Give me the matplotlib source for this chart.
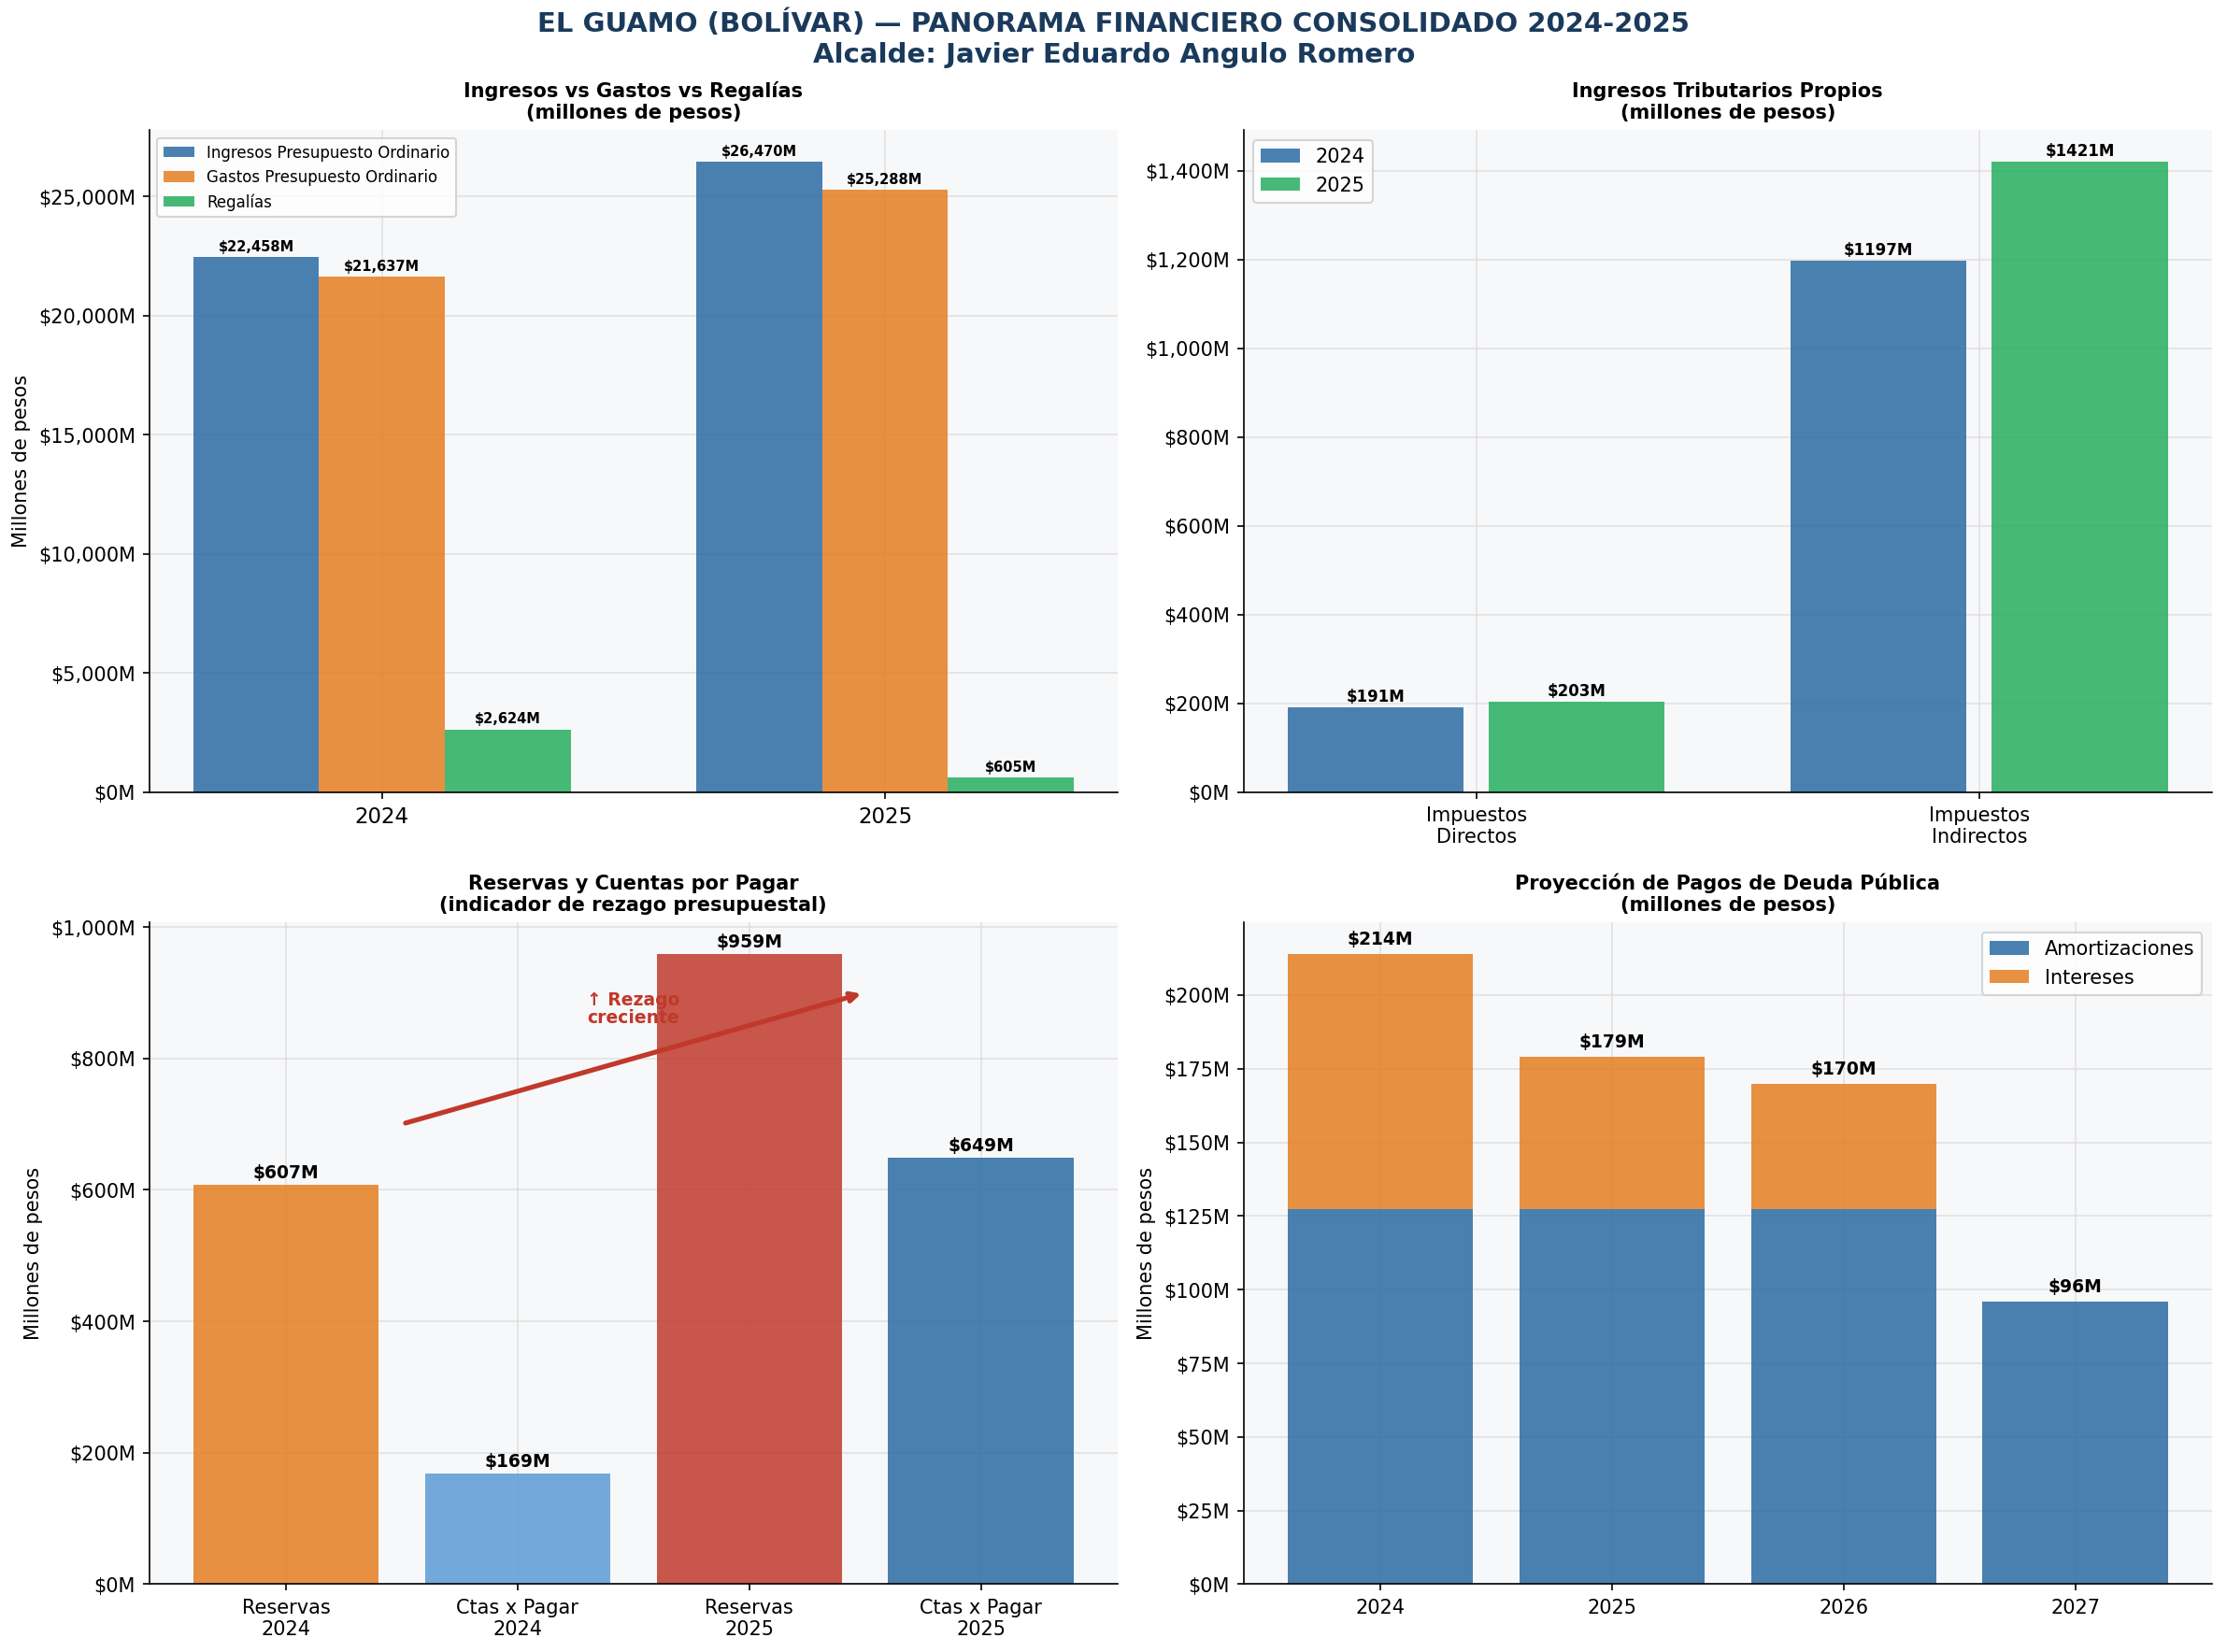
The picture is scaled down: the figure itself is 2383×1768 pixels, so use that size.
import matplotlib
matplotlib.use("Agg")
import matplotlib.pyplot as plt
import numpy as np
from matplotlib.ticker import FuncFormatter

# ---- data ----
years = ["2024", "2025"]
ingresos = [22458, 26470]
gastos = [21637, 25288]
regalias = [2624, 605]

trib_cats = ["Impuestos\nDirectos", "Impuestos\nIndirectos"]
trib_2024 = [191, 1197]
trib_2025 = [203, 1421]

res_cats = ["Reservas\n2024", "Ctas x Pagar\n2024", "Reservas\n2025", "Ctas x Pagar\n2025"]
res_vals = [607, 169, 959, 649]

deuda_years = ["2024", "2025", "2026", "2027"]
amortizaciones = [127.5, 127.5, 127.5, 96]
intereses = [86.5, 51.5, 42.5, 0]

BLUE = "#2b6ba3"
ORANGE = "#e67e22"
GREEN = "#27ae60"
RED = "#c0392b"
LBLUE = "#5b9bd5"
NAVY = "#1a3a5c"
BG = "#f7f8fa"
A = 0.85

fig, axes = plt.subplots(2, 2, figsize=(15.89, 11.79), dpi=150)
fig.suptitle("EL GUAMO (BOLÍVAR) — PANORAMA FINANCIERO CONSOLIDADO 2024-2025\nAlcalde: Javier Eduardo Angulo Romero",
             fontsize=14, fontweight="bold", color=NAVY, y=0.994, va="top")

for ax in axes.flat:
    ax.set_facecolor(BG)
    ax.spines["top"].set_visible(False)
    ax.spines["right"].set_visible(False)
    ax.grid(True, color="#d9d9d9", alpha=0.7, linewidth=0.8)
    ax.set_axisbelow(True)

# ---- Panel 1 ----
ax = axes[0, 0]
x = np.arange(len(years))
w = 0.25
b1 = ax.bar(x - w, ingresos, w, color=BLUE, alpha=A, label="Ingresos Presupuesto Ordinario")
b2 = ax.bar(x, gastos, w, color=ORANGE, alpha=A, label="Gastos Presupuesto Ordinario")
b3 = ax.bar(x + w, regalias, w, color=GREEN, alpha=A, label="Regalías")
for bars in (b1, b2, b3):
    for r in bars:
        h = r.get_height()
        ax.text(r.get_x() + r.get_width() / 2, h + 150, f"${h:,.0f}M", ha="center", va="bottom",
                fontsize=7, fontweight="bold")
ax.set_xticks(x)
ax.set_xticklabels(years, fontsize=11)
ax.set_ylim(0, max(ingresos) * 1.05)
ax.yaxis.set_major_formatter(FuncFormatter(lambda v, p: f"${v:,.0f}M"))
ax.set_ylabel("Millones de pesos", fontsize=10)
ax.set_title("Ingresos vs Gastos vs Regalías\n(millones de pesos)", fontsize=10, fontweight="bold")
ax.legend(loc="upper left", fontsize=8)

# ---- Panel 2 ----
ax = axes[0, 1]
x = np.arange(len(trib_cats))
w = 0.35
c1 = ax.bar(x - 0.2, trib_2024, w, color=BLUE, alpha=A, label="2024")
c2 = ax.bar(x + 0.2, trib_2025, w, color=GREEN, alpha=A, label="2025")
for bars in (c1, c2):
    for r in bars:
        h = r.get_height()
        ax.text(r.get_x() + r.get_width() / 2, h + 5, f"${h:.0f}M", ha="center", va="bottom",
                fontsize=8, fontweight="bold")
ax.set_xticks(x)
ax.set_xticklabels(trib_cats, fontsize=10)
ax.set_ylim(0, max(trib_2025) * 1.05)
ax.yaxis.set_major_formatter(FuncFormatter(lambda v, p: f"${v:,.0f}M"))
ax.set_title("Ingresos Tributarios Propios\n(millones de pesos)", fontsize=10, fontweight="bold")
ax.legend(loc="upper left", fontsize=10)

# ---- Panel 3 ----
ax = axes[1, 0]
x = np.arange(len(res_cats))
cols = [ORANGE, LBLUE, RED, BLUE]
bars = ax.bar(x, res_vals, 0.8, color=cols, alpha=A)
for r in bars:
    h = r.get_height()
    ax.text(r.get_x() + r.get_width() / 2, h + 5, f"${h:.0f}M", ha="center", va="bottom",
            fontsize=9, fontweight="bold")
ax.set_xticks(x)
ax.set_xticklabels(res_cats, fontsize=10)
ax.set_ylim(0, max(res_vals) * 1.05)
ax.yaxis.set_major_formatter(FuncFormatter(lambda v, p: f"${v:,.0f}M"))
ax.set_ylabel("Millones de pesos", fontsize=10)
ax.set_title("Reservas y Cuentas por Pagar\n(indicador de rezago presupuestal)", fontsize=10, fontweight="bold")
ax.annotate("", xy=(2.5, 900), xytext=(0.5, 700),
            arrowprops=dict(arrowstyle="->", color=RED, lw=2.5))
ax.text(1.5, 875, "↑ Rezago\ncreciente", ha="center", va="center", color=RED,
        fontsize=9, fontweight="bold", linespacing=1.0)

# ---- Panel 4 ----
ax = axes[1, 1]
x = np.arange(len(deuda_years))
ax.bar(x, amortizaciones, 0.8, color=BLUE, alpha=A, label="Amortizaciones")
ax.bar(x, intereses, 0.8, bottom=amortizaciones, color=ORANGE, alpha=A, label="Intereses")
totals = [a + b for a, b in zip(amortizaciones, intereses)]
for xi, t in zip(x, totals):
    ax.text(xi, t + 2, f"${t:.0f}M", ha="center", va="bottom", fontsize=9, fontweight="bold")
ax.set_xticks(x)
ax.set_xticklabels(deuda_years, fontsize=10)
ax.set_ylim(0, max(totals) * 1.05)
ax.yaxis.set_major_formatter(FuncFormatter(lambda v, p: f"${v:,.0f}M"))
ax.set_ylabel("Millones de pesos", fontsize=10)
ax.set_title("Proyección de Pagos de Deuda Pública\n(millones de pesos)", fontsize=10, fontweight="bold")
ax.legend(loc="upper right", fontsize=10)

fig.subplots_adjust(left=0.067, right=0.993, top=0.921, bottom=0.041, wspace=0.13, hspace=0.197)
fig.savefig("out.png", dpi=150)
